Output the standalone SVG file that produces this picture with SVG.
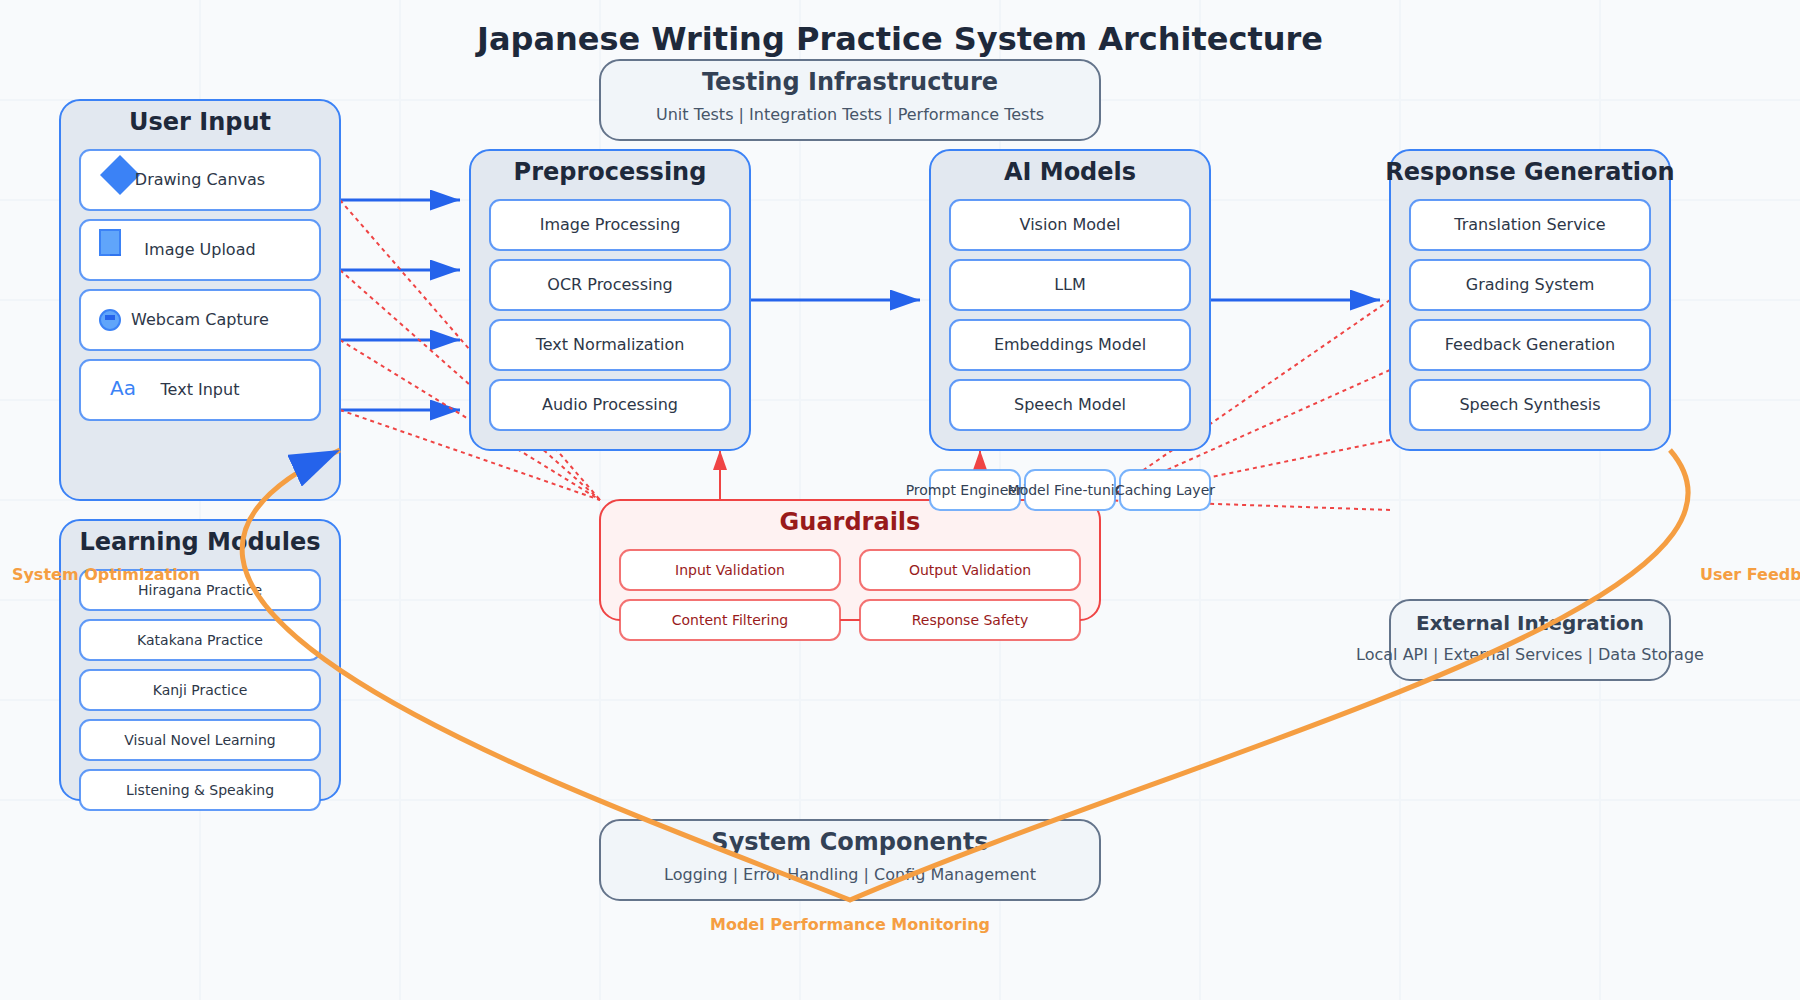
<svg xmlns="http://www.w3.org/2000/svg" width="1800" height="1000" viewBox="0 0 1800 1000">
<style>
text{font-family:"DejaVu Sans",sans-serif;text-anchor:middle}
.bg{fill:#f8fafc}
.grid{stroke:#f1f5f9;stroke-width:2;fill:none}
.panel{fill:#e2e8f0;stroke:#3b82f6;stroke-width:2}
.item{fill:#fff;stroke:#3b82f6;stroke-width:2;stroke-opacity:.8}
.infra{fill:#f1f5f9;stroke:#64748b;stroke-width:2}
.guard{fill:#fef2f2;stroke:#ef4444;stroke-width:2}
.gitem{fill:#fff;stroke:#ef4444;stroke-width:2;stroke-opacity:.75}
.small{fill:#fff;stroke:#60a5fa;stroke-width:2;stroke-opacity:.85}
.h{font-size:24px;font-weight:700;fill:#1e293b}
.hi{font-size:24px;font-weight:700;fill:#334155}
.t{font-size:16px;fill:#2d3748}
.s{font-size:14px;fill:#2d3748}
.sub{font-size:16px;fill:#475569}
.gt{font-size:14px;fill:#991b1b}
.st{font-size:14px;fill:#334155}
.ol{font-size:16px;font-weight:700;fill:#f59e42}
.blue{stroke:#2563eb;stroke-width:3;fill:none;marker-end:url(#ab)}
.red{stroke:#ef4444;stroke-width:2;fill:none;marker-end:url(#ar)}
.dash{stroke:#ef4444;stroke-width:2;fill:none;stroke-dasharray:4 4}
.orange{stroke:#f59e42;stroke-width:5;fill:none;marker-end:url(#ab)}
</style>
<defs>
<marker id="ab" markerWidth="10" markerHeight="7" refX="10" refY="3.5" orient="auto"><polygon points="0 0,10 3.5,0 7" fill="#2563eb"/></marker>
<marker id="ar" markerWidth="10" markerHeight="7" refX="10" refY="3.5" orient="auto"><polygon points="0 0,10 3.5,0 7" fill="#ef4444"/></marker>
</defs>
<rect class="bg" width="1800" height="1000"/>
<path class="grid" d="M200 0V1000M400 0V1000M600 0V1000M800 0V1000M1000 0V1000M1200 0V1000M1400 0V1000M1600 0V1000M0 100H1800M0 200H1800M0 300H1800M0 400H1800M0 500H1800M0 600H1800M0 700H1800M0 800H1800"/>
<text x="900" y="50" style="font-size:32px;font-weight:700;fill:#1e293b">Japanese Writing Practice System Architecture</text>
<g id="connectors">
<line class="blue" x1="340" y1="200" x2="460" y2="200"/>
<line class="blue" x1="340" y1="270" x2="460" y2="270"/>
<line class="blue" x1="340" y1="340" x2="460" y2="340"/>
<line class="blue" x1="340" y1="410" x2="460" y2="410"/>
<line class="blue" x1="750" y1="300" x2="920" y2="300"/>
<line class="blue" x1="1210" y1="300" x2="1380" y2="300"/>
<line class="red" x1="720" y1="500" x2="720" y2="450"/>
<line class="red" x1="980" y1="500" x2="980" y2="450"/>
<line class="dash" x1="340" y1="200" x2="600" y2="500"/>
<line class="dash" x1="340" y1="270" x2="600" y2="500"/>
<line class="dash" x1="340" y1="340" x2="600" y2="500"/>
<line class="dash" x1="340" y1="410" x2="600" y2="500"/>
<line class="dash" x1="1390" y1="300" x2="1100" y2="500"/>
<line class="dash" x1="1390" y1="370" x2="1100" y2="500"/>
<line class="dash" x1="1390" y1="440" x2="1100" y2="500"/>
<line class="dash" x1="1390" y1="510" x2="1100" y2="500"/>
</g>
<g id="user-input">
<rect class="panel" x="60" y="100" width="280" height="400" rx="20"/>
<text class="h" x="200" y="130">User Input</text>
<rect class="item" x="80" y="150" width="240" height="60" rx="10"/>
<rect class="item" x="80" y="220" width="240" height="60" rx="10"/>
<rect class="item" x="80" y="290" width="240" height="60" rx="10"/>
<rect class="item" x="80" y="360" width="240" height="60" rx="10"/>
<polygon points="120,155 140,175 120,195 100,175" fill="#3b82f6"/>
<path d="M100 230H120V255H100Z" fill="#60a5fa" stroke="#3b82f6" stroke-width="2"/>
<rect x="110" y="254" width="11" height="2" fill="#2f74ee"/>
<circle cx="110" cy="320" r="10" fill="#60a5fa" stroke="#3b82f6" stroke-width="2"/>
<rect x="105" y="315" width="10" height="5" fill="#2563eb"/>
<text x="110" y="395" style="font-size:20px;fill:#3b82f6;text-anchor:start">Aa</text>
<text class="t" x="200" y="185">Drawing Canvas</text>
<text class="t" x="200" y="255">Image Upload</text>
<text class="t" x="200" y="325">Webcam Capture</text>
<text class="t" x="200" y="395">Text Input</text>
</g>
<g id="preprocessing">
<rect class="panel" x="470" y="150" width="280" height="300" rx="20"/>
<text class="h" x="610" y="180">Preprocessing</text>
<rect class="item" x="490" y="200" width="240" height="50" rx="10"/>
<rect class="item" x="490" y="260" width="240" height="50" rx="10"/>
<rect class="item" x="490" y="320" width="240" height="50" rx="10"/>
<rect class="item" x="490" y="380" width="240" height="50" rx="10"/>
<text class="t" x="610" y="230">Image Processing</text>
<text class="t" x="610" y="290">OCR Processing</text>
<text class="t" x="610" y="350">Text Normalization</text>
<text class="t" x="610" y="410">Audio Processing</text>
</g>
<g id="ai-models">
<rect class="panel" x="930" y="150" width="280" height="300" rx="20"/>
<text class="h" x="1070" y="180">AI Models</text>
<rect class="item" x="950" y="200" width="240" height="50" rx="10"/>
<rect class="item" x="950" y="260" width="240" height="50" rx="10"/>
<rect class="item" x="950" y="320" width="240" height="50" rx="10"/>
<rect class="item" x="950" y="380" width="240" height="50" rx="10"/>
<text class="t" x="1070" y="230">Vision Model</text>
<text class="t" x="1070" y="290">LLM</text>
<text class="t" x="1070" y="350">Embeddings Model</text>
<text class="t" x="1070" y="410">Speech Model</text>
</g>
<g id="response-generation">
<rect class="panel" x="1390" y="150" width="280" height="300" rx="20"/>
<text class="h" x="1530" y="180">Response Generation</text>
<rect class="item" x="1410" y="200" width="240" height="50" rx="10"/>
<rect class="item" x="1410" y="260" width="240" height="50" rx="10"/>
<rect class="item" x="1410" y="320" width="240" height="50" rx="10"/>
<rect class="item" x="1410" y="380" width="240" height="50" rx="10"/>
<text class="t" x="1530" y="230">Translation Service</text>
<text class="t" x="1530" y="290">Grading System</text>
<text class="t" x="1530" y="350">Feedback Generation</text>
<text class="t" x="1530" y="410">Speech Synthesis</text>
</g>
<g id="learning-modules">
<rect class="panel" x="60" y="520" width="280" height="280" rx="20"/>
<text class="h" x="200" y="550">Learning Modules</text>
<rect class="item" x="80" y="570" width="240" height="40" rx="10"/>
<rect class="item" x="80" y="620" width="240" height="40" rx="10"/>
<rect class="item" x="80" y="670" width="240" height="40" rx="10"/>
<rect class="item" x="80" y="720" width="240" height="40" rx="10"/>
<rect class="item" x="80" y="770" width="240" height="40" rx="10"/>
<text class="s" x="200" y="595">Hiragana Practice</text>
<text class="s" x="200" y="645">Katakana Practice</text>
<text class="s" x="200" y="695">Kanji Practice</text>
<text class="s" x="200" y="745">Visual Novel Learning</text>
<text class="s" x="200" y="795">Listening &amp; Speaking</text>
</g>
<g id="testing-infrastructure">
<rect class="infra" x="600" y="60" width="500" height="80" rx="20"/>
<text class="hi" x="850" y="90">Testing Infrastructure</text>
<text class="sub" x="850" y="120">Unit Tests | Integration Tests | Performance Tests</text>
</g>
<g id="guardrails">
<rect class="guard" x="600" y="500" width="500" height="120" rx="20"/>
<text x="850" y="530" style="font-size:24px;font-weight:700;fill:#991b1b">Guardrails</text>
<rect class="gitem" x="620" y="550" width="220" height="40" rx="10"/>
<rect class="gitem" x="860" y="550" width="220" height="40" rx="10"/>
<rect class="gitem" x="620" y="600" width="220" height="40" rx="10"/>
<rect class="gitem" x="860" y="600" width="220" height="40" rx="10"/>
<text class="gt" x="730" y="575">Input Validation</text>
<text class="gt" x="970" y="575">Output Validation</text>
<text class="gt" x="730" y="625">Content Filtering</text>
<text class="gt" x="970" y="625">Response Safety</text>
</g>
<g id="prompt-engineering">
<rect class="small" x="930" y="470" width="90" height="40" rx="10"/>
<text class="st" x="975" y="495">Prompt Engineering</text>
</g>
<g id="model-fine-tuning">
<rect class="small" x="1025" y="470" width="90" height="40" rx="10"/>
<text class="st" x="1070" y="495">Model Fine-tuning</text>
</g>
<g id="caching-layer">
<rect class="small" x="1120" y="470" width="90" height="40" rx="10"/>
<text class="st" x="1165" y="495">Caching Layer</text>
</g>
<g id="system-components">
<rect class="infra" x="600" y="820" width="500" height="80" rx="20"/>
<text class="hi" x="850" y="850">System Components</text>
<text class="sub" x="850" y="880">Logging | Error Handling | Config Management</text>
</g>
<g id="external-integration">
<rect class="infra" x="1390" y="600" width="280" height="80" rx="20"/>
<text x="1530" y="630" style="font-size:20px;font-weight:700;fill:#334155">External Integration</text>
<text class="sub" x="1530" y="660">Local API | External Services | Data Storage</text>
</g>
<g id="feedback-connectors">
<path class="orange" d="M1670 450C1800 600 1200 750 850 900C600 800 10 600 340 450"/>
<text class="ol" x="106" y="580">System Optimization</text>
<text class="ol" x="850" y="930">Model Performance Monitoring</text>
<text class="ol" x="1700" y="580" style="text-anchor:start">User Feedback</text>
</g>
</svg>
